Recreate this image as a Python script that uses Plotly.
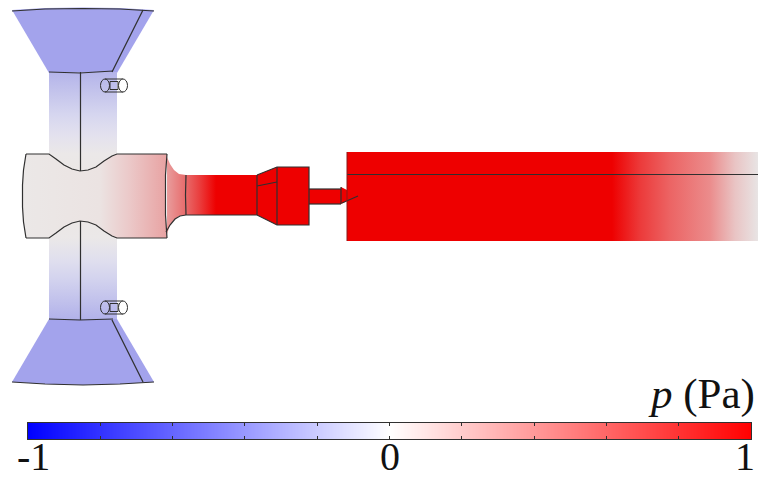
"""Pressure field over the duct geometry, with a blue-white-red scale bar."""
import plotly.graph_objects as go

# colour bar
SCALE_P = [-1, 0, 1]
SCALE_COLORS = ["#0000ff", "#ffffff", "#ff0000"]
SCALE_TICKS = [-1, -0.8, -0.6, -0.4, -0.2, 0, 0.2, 0.4, 0.6, 0.8, 1]
SCALE_LABELS = ["-1", "0", "1"]

# shaded field colours along the flow
HORN_COLOR = "#a3a3ec"
RED = "#ee0000"
TUBE_Y = [72, 95, 115, 135, 154, 171]
TUBE_COLORS = ["#b4b4ea", "#c6c6ec", "#d6d6ef", "#e3e1ee", "#ebe8e8", "#ebe7e6"]
TUBE_BOT_Y = [221, 238, 260, 280, 300, 319]
TUBE_BOT_COLORS = ["#ebe7e6", "#ebe8e8", "#e0dfee", "#d2d2ee", "#c2c2ec", "#b2b2ea"]
BODY_X = [22, 100, 130, 167]
BODY_COLORS = ["#ebe8e7", "#ebe3e2", "#ebc8c8", "#e8a2a2"]
NECK_X = [165, 186, 200, 216, 230]
NECK_COLORS = ["#e8a2a2", "#e86a6a", "#ea3c3c", "#ee0000", "#ee0000"]
DUCT_X = [347, 612, 640, 670, 710, 735, 758]
DUCT_COLORS = [RED, RED, "#ec3a3a", "#ec6464", "#eb8c8c", "#e9c4c4", "#e8e4e4"]

# outlines, in picture pixels
HORN_TOP_X = [12, 45, 83, 120, 154, 117, 49]
HORN_TOP_Y = [10, 8, 7.5, 8, 10, 73, 73]
HORN_BOT_X = [49, 117, 154, 120, 83, 45, 12]
HORN_BOT_Y = [319, 319, 382, 384, 385, 384, 382]
NOTCH_X = [49, 56, 64, 72, 80, 88, 96, 104, 112, 117]
NOTCH_TOP_Y = [154, 159, 165, 169, 171, 170, 167, 161, 156, 154]
NOTCH_BOT_Y = [238, 233, 227, 223, 221, 222, 225, 231, 236, 238]
LEFT_X = [26, 23.5, 22.5, 22.5, 23.5, 26]
LEFT_Y = [154, 170, 185, 207, 222, 238]
NECK_TOP_X = [167, 170, 174, 179, 186, 257, 277, 309, 309, 341, 341, 347]
NECK_TOP_Y = [157, 164, 170, 174, 175, 175, 167, 167, 189, 189, 187, 190]
NECK_BOT_X = [347, 341, 341, 309, 309, 277, 257, 186, 179, 174, 170, 167]
NECK_BOT_Y = [201, 204, 204, 204, 225, 225, 215, 215, 216, 220, 225, 234]
DUCT_RECT_X = [347, 758, 758, 347]
DUCT_RECT_Y = [152, 152, 241, 241]

# edge lines: each is (xs, ys)
EDGES = [
    (HORN_TOP_X[:5], [y + 1 for y in HORN_TOP_Y[:5]]),
    ([49, 80, 113], [72, 73, 71]),
    ([143, 112], [10, 72]),
    ([80.5, 80.5], [72, 171]),
    ([26, 49] + NOTCH_X[1:] + [167], [154, 154] + NOTCH_TOP_Y[1:] + [154]),
    (LEFT_X, LEFT_Y),
    ([26, 49] + NOTCH_X[1:] + [167], [238, 238] + NOTCH_BOT_Y[1:] + [238]),
    ([167, 165.5, 165.5, 167], [154, 175, 215, 238]),
    ([80.5, 80.5], [221, 320]),
    ([49, 80, 113], [319, 320, 319]),
    ([112, 143], [320, 382]),
    ([12, 45, 83, 120, 154], [382, 384, 385, 384, 382]),
    ([166, 170, 175, 180, 186], [232, 225, 219, 216, 215]),
    ([186, 185.5, 186], [175, 195, 215]),
    ([186, 257], [215, 215]),
    ([257, 257], [175, 215]),
    ([257, 277], [186, 182]),
    ([257, 277, 309, 309, 277, 257], [175, 167, 167, 225, 225, 215]),
    ([277, 277], [167, 225]),
    ([309, 341], [189, 189]),
    ([309, 341], [204, 204]),
    ([341, 341], [187, 204]),
    ([342, 358], [203, 196]),
    ([347, 758], [174.5, 174.5]),
]
# small side ports: x of the two end caps and the centre height
PORT_CAP_X = [105, 123]
PORT_Y = [85.5, 307.5]

INK = "#303030"
SERIF = "Liberation Serif"


def ramp(stops, colors):
    lo, hi = stops[0], stops[-1]
    return [[(s - lo) / (hi - lo), c] for s, c in zip(stops, colors)]


def region(fig, xs, ys, kind=None, stops=None, colors=None, flat=None):
    kw = dict(fillcolor=flat)
    if kind:
        kw = dict(fillgradient=dict(type=kind, colorscale=ramp(stops, colors),
                                    start=stops[0], stop=stops[-1]))
    fig.add_trace(go.Scatter(x=xs + xs[:1], y=ys + ys[:1], mode="lines", fill="toself",
                             line=dict(width=0), hoverinfo="skip", showlegend=False, **kw))


fig = go.Figure()

region(fig, HORN_TOP_X, HORN_TOP_Y, flat=HORN_COLOR)
region(fig, HORN_BOT_X, HORN_BOT_Y, flat=HORN_COLOR)
region(fig, [49, 117] + NOTCH_X[::-1], [72, 72] + NOTCH_TOP_Y[::-1],
       "vertical", TUBE_Y, TUBE_COLORS)
region(fig, NOTCH_X + [117, 49], NOTCH_BOT_Y + [319, 319],
       "vertical", TUBE_BOT_Y, TUBE_BOT_COLORS)
region(fig, NECK_TOP_X + NECK_BOT_X, NECK_TOP_Y + NECK_BOT_Y, "horizontal", NECK_X, NECK_COLORS)
region(fig, LEFT_X + NOTCH_X + [167, 165.5, 165.5, 167] + NOTCH_X[::-1],
       LEFT_Y + NOTCH_BOT_Y + [238, 215, 175, 154] + NOTCH_TOP_Y[::-1],
       "horizontal", BODY_X, BODY_COLORS)
region(fig, DUCT_RECT_X, DUCT_RECT_Y, "horizontal", DUCT_X, DUCT_COLORS)

for xs, ys in EDGES:
    fig.add_trace(go.Scatter(x=xs, y=ys, mode="lines", line=dict(color=INK, width=1.2),
                             hoverinfo="skip", showlegend=False))
# the duct's inlet edge is fainter than the other outlines
fig.add_trace(go.Scatter(x=[347, 347], y=[152, 241], mode="lines",
                         line=dict(color="#8a1818", width=1),
                         hoverinfo="skip", showlegend=False))

for cy in PORT_Y:
    fig.add_shape(type="line", x0=PORT_CAP_X[0], x1=PORT_CAP_X[1], y0=cy - 6.5, y1=cy - 6.5,
                  line=dict(color=INK, width=1))
    fig.add_shape(type="line", x0=PORT_CAP_X[0], x1=PORT_CAP_X[1], y0=cy + 6.5, y1=cy + 6.5,
                  line=dict(color=INK, width=1))
    fig.add_shape(type="rect", x0=110, x1=118, y0=cy - 4, y1=cy + 4, line=dict(color=INK, width=1))
    fig.add_shape(type="circle", x0=PORT_CAP_X[0] - 4.5, x1=PORT_CAP_X[0] + 4.5,
                  y0=cy - 6.5, y1=cy + 6.5, line=dict(color=INK, width=1))
    fig.add_shape(type="circle", x0=PORT_CAP_X[1] - 4.5, x1=PORT_CAP_X[1] + 4.5,
                  y0=cy - 6.5, y1=cy + 6.5, fillcolor="white", line=dict(color=INK, width=1))

# colour bar is a real heatmap on its own axes
fig.add_trace(go.Heatmap(x=SCALE_P, y=[0, 1], z=[SCALE_P, SCALE_P], zmin=-1, zmax=1,
                         colorscale=ramp(SCALE_P, SCALE_COLORS), zsmooth="best",
                         showscale=False, hoverinfo="skip", xaxis="x2", yaxis="y2"))

fig.update_layout(
    width=758, height=479,
    margin=dict(l=0, r=0, t=0, b=0),
    paper_bgcolor="white", plot_bgcolor="white",
    font=dict(family=SERIF, color="#111111"),
    xaxis=dict(range=[0, 758], visible=False, fixedrange=True),
    yaxis=dict(range=[479, 0], visible=False, fixedrange=True),
    xaxis2=dict(domain=[28 / 758, 751 / 758], range=[-1, 1], anchor="y2",
                tickvals=SCALE_TICKS, showticklabels=False, ticks="inside", ticklen=3,
                tickcolor=INK, showgrid=False, zeroline=False,
                showline=True, linecolor=INK, linewidth=1, mirror="ticks"),
    yaxis2=dict(domain=[1 - 439 / 479, 1 - 423 / 479], range=[0, 1], anchor="x2",
                showticklabels=False, ticks="", showgrid=False, zeroline=False,
                showline=True, linecolor=INK, linewidth=1, mirror=True),
)

# digits sit as low as they can without their text box running off the page
for p, label, shift in zip(SCALE_P, SCALE_LABELS, [5, 0, -6]):
    fig.add_annotation(x=p, xref="x2", y=456, yref="y", text=label, showarrow=False,
                       xshift=shift, font=dict(size=40, family=SERIF, color="#111111"))
fig.add_annotation(x=757, xref="x", y=394, yref="y", text="<i>p</i> (Pa)", xanchor="right",
                   showarrow=False, font=dict(size=43, family=SERIF, color="#111111"))

fig.write_html("out.html", config=dict(displayModeBar=False),
               post_script="document.body.style.margin='0';")
